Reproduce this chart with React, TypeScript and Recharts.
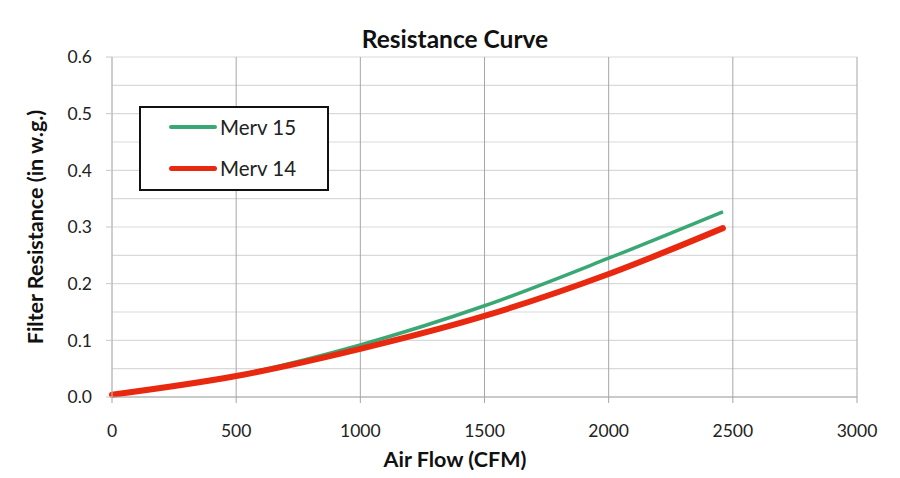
import { CartesianGrid, Line, LineChart, XAxis, YAxis } from 'recharts'

const airFlow = [0, 500, 1000, 1500, 2000, 2460]
const merv15 = [0.004, 0.038, 0.092, 0.161, 0.245, 0.327]
const merv14 = [0.004, 0.037, 0.085, 0.143, 0.217, 0.298]

const xTicks = [0, 500, 1000, 1500, 2000, 2500, 3000]
const yTicks = [0, 0.1, 0.2, 0.3, 0.4, 0.5, 0.6]
const yGrid = [0, 0.05, 0.1, 0.15, 0.2, 0.25, 0.3, 0.35, 0.4, 0.45, 0.5, 0.55, 0.6]

const seriesNames = ['Merv 15', 'Merv 14']
const seriesColors = ['#3aa874', '#e8290f']

const data = airFlow.map((cfm, i) => ({ cfm, merv15: merv15[i], merv14: merv14[i] }))

const font = 'Lato, "Open Sans", sans-serif'

// legend is drawn as plain html so it doesn't eat plot space
function LegendBox() {
  return (
    <div
      style={{
        position: 'absolute',
        left: 139,
        top: 106,
        width: 190,
        height: 85,
        border: '2px solid #111',
        background: '#fff',
        boxSizing: 'border-box',
        fontFamily: font,
        fontSize: 20.5,
        color: '#222',
      }}
    >
      {seriesNames.map((name, i) => (
        <div
          key={name}
          style={{ display: 'flex', alignItems: 'center', height: 24, marginTop: i === 0 ? 7 : 17 }}
        >
          <div
            style={{
              marginLeft: 28,
              width: 48,
              height: i === 0 ? 4 : 5,
              borderRadius: 3,
              background: seriesColors[i],
            }}
          />
          <span style={{ marginLeft: 3 }}>{name}</span>
        </div>
      ))}
    </div>
  )
}

export default function App() {
  return (
    <div style={{ margin: -8, width: 900, height: 478, background: '#dedeee', position: 'relative', overflow: 'hidden' }}>
      <div
        style={{
          position: 'absolute',
          left: 7,
          top: 7,
          width: 893,
          height: 471,
          background: '#fff',
          borderLeft: '1px solid #b8b8c8',
          borderTop: '1px solid #b8b8c8',
        }}
      />
      <div style={{ position: 'absolute', left: 0, top: 0 }}>
        <LineChart width={900} height={478} data={data} margin={{ top: 57, right: 43, bottom: 0, left: 52 }}>
          <CartesianGrid horizontalValues={yGrid} vertical={false} stroke="#d9d9d9" strokeWidth={1.2} />
          <CartesianGrid verticalValues={xTicks} horizontal={false} stroke="#a6a6a6" />
          <XAxis
            type="number"
            dataKey="cfm"
            domain={[0, 3000]}
            ticks={xTicks}
            height={81}
            tickSize={6}
            tickMargin={22}
            axisLine={{ stroke: '#a6a6a6' }}
            tickLine={{ stroke: '#a6a6a6' }}
            tick={{ fill: '#222', fontSize: 17.5, fontFamily: font }}
          />
          <YAxis
            type="number"
            width={60}
            domain={[0, 0.6]}
            ticks={yTicks}
            tickFormatter={(v: number) => v.toFixed(1)}
            tickSize={6}
            tickMargin={14}
            axisLine={{ stroke: '#c8c8c8' }}
            tickLine={{ stroke: '#c8c8c8' }}
            tick={{ fill: '#222', fontSize: 17.5, fontFamily: font }}
          />
          <Line
            type="monotone"
            dataKey="merv15"
            name={seriesNames[0]}
            stroke={seriesColors[0]}
            strokeWidth={3.5}
            dot={false}
            isAnimationActive={false}
          />
          <Line
            type="monotone"
            dataKey="merv14"
            name={seriesNames[1]}
            stroke={seriesColors[1]}
            strokeWidth={6}
            strokeLinecap="round"
            dot={false}
            isAnimationActive={false}
          />
        </LineChart>
      </div>
      <LegendBox />
      <div
        style={{
          position: 'absolute',
          left: 0,
          width: 910,
          top: 24,
          textAlign: 'center',
          fontFamily: font,
          fontWeight: 700,
          fontSize: 24.5,
          color: '#111',
        }}
      >
        Resistance Curve
      </div>
      <div
        style={{
          position: 'absolute',
          left: 0,
          width: 910,
          top: 446,
          textAlign: 'center',
          fontFamily: font,
          fontWeight: 700,
          fontSize: 21.5,
          color: '#111',
        }}
      >
        Air Flow (CFM)
      </div>
      <div
        style={{
          position: 'absolute',
          left: 35,
          top: 227,
          transform: 'translate(-50%, -50%) rotate(-90deg)',
          whiteSpace: 'nowrap',
          fontFamily: font,
          fontWeight: 700,
          fontSize: 21.5,
          color: '#111',
        }}
      >
        Filter Resistance (in w.g.)
      </div>
    </div>
  )
}
